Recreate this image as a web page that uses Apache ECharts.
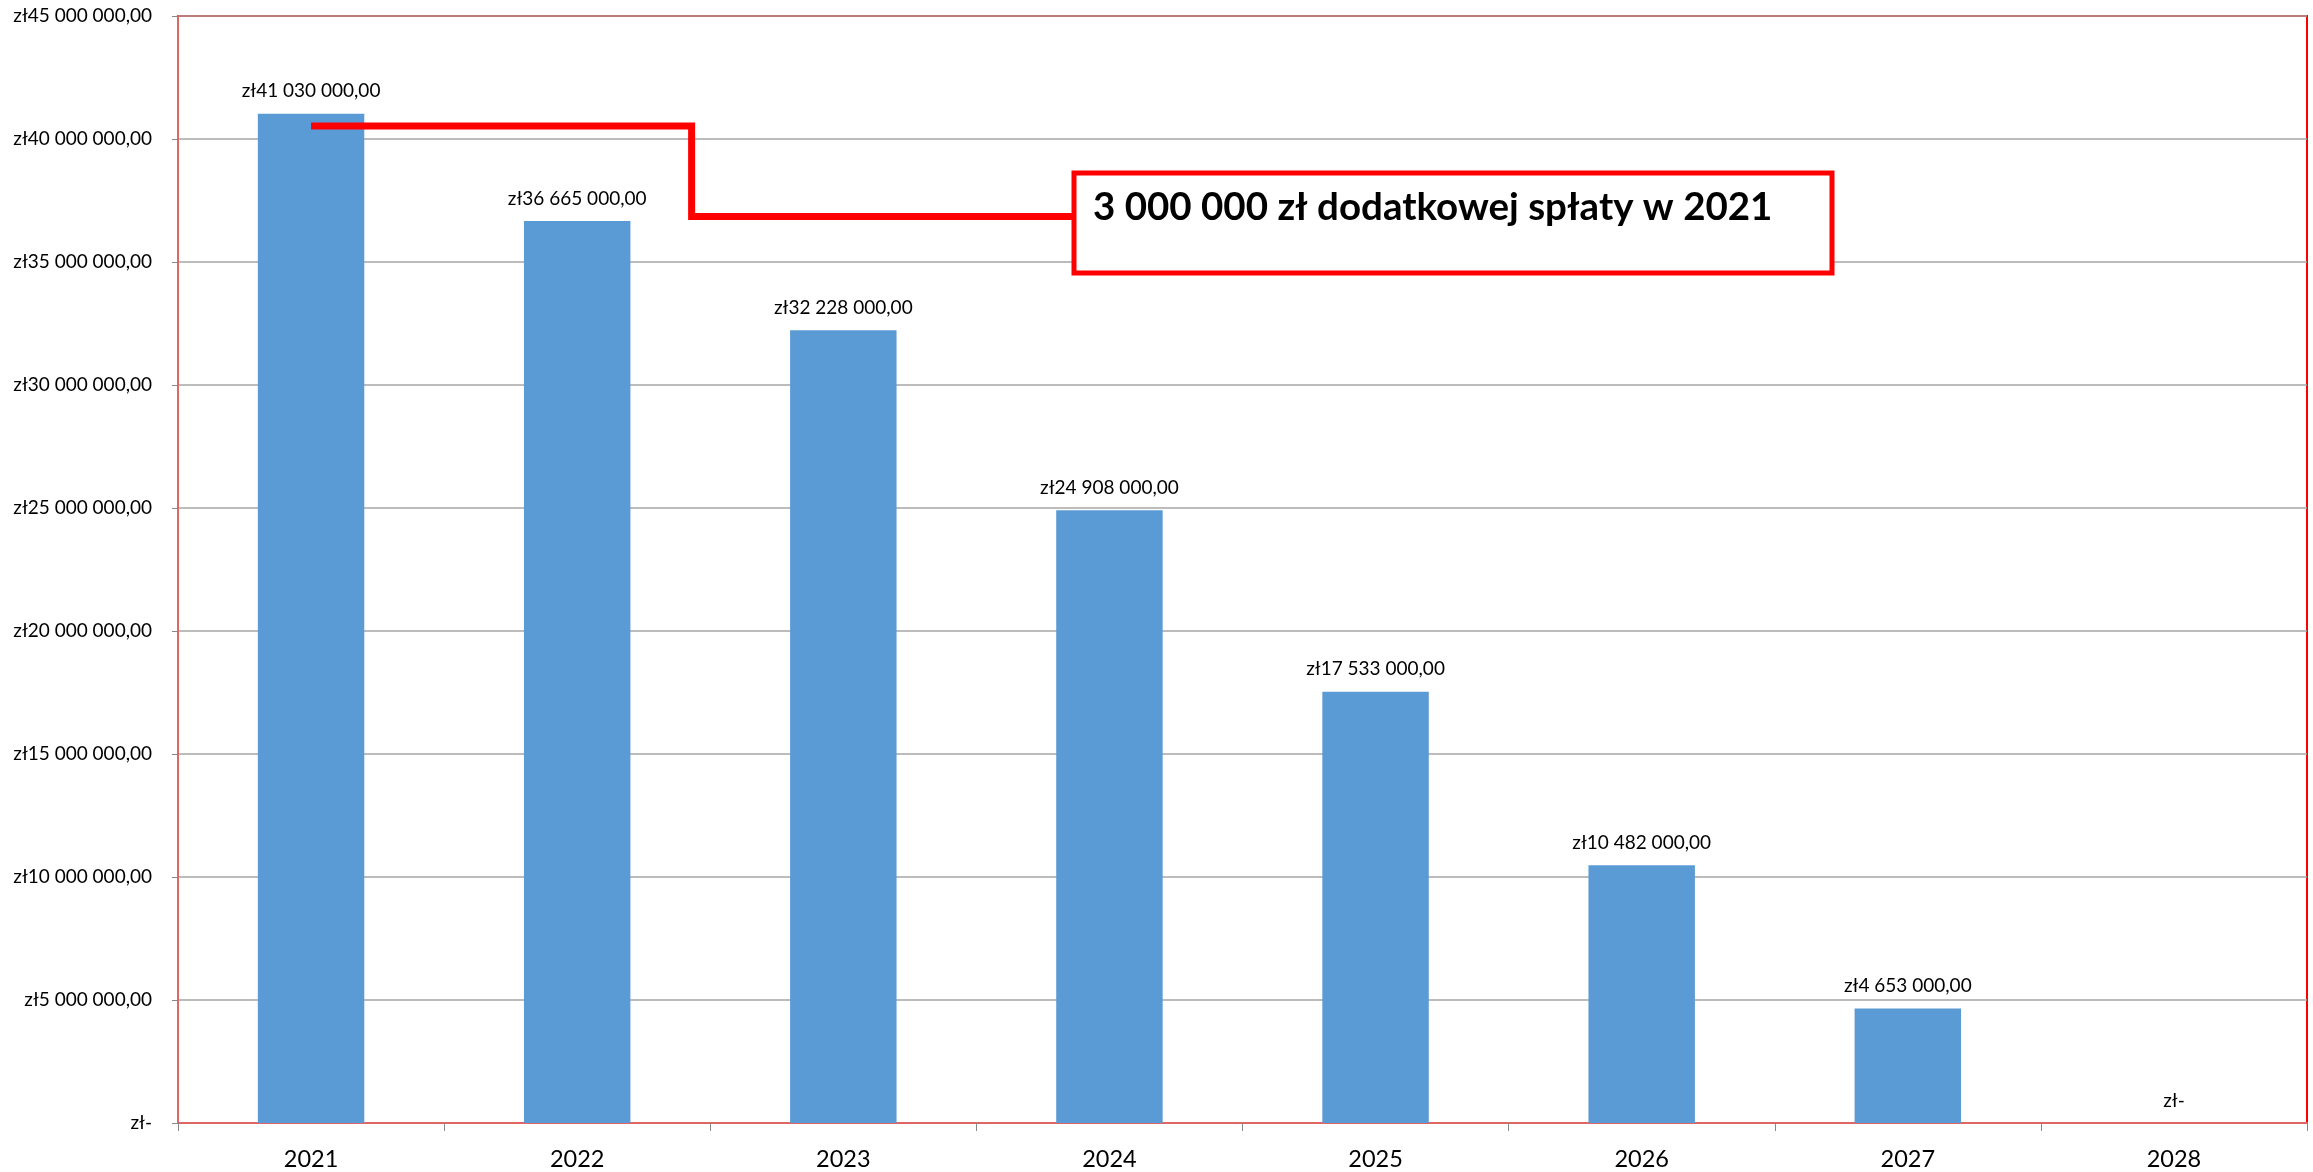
<!DOCTYPE html>
<html style="height: 100%;">
  <head>
    <meta charset="utf-8" />
    <script src="https://cdn.jsdelivr.net/npm/echarts/dist/echarts.min.js"></script>
  </head>
  <body style="height: 100%; margin: 0; background: #fff;">
    <div id="container" style="width: 2313px; height: 1172px;"></div>
    <script type="text/javascript">
      var years = ["2021", "2022", "2023", "2024", "2025", "2026", "2027", "2028"];
      var remaining = [41030000, 36665000, 32228000, 24908000, 17533000, 10482000, 4653000, 0];
      var noteText = "3 000 000 zł dodatkowej spłaty w 2021";

      var FONT = "Lato";

      function money(v) {
        if (!v) return "zł-";
        var s = String(Math.round(v)).replace(/\B(?=(\d{3})+(?!\d))/g, " ");
        return "zł" + s + ",00";
      }

      var myChart = echarts.init(document.getElementById("container"));
      var option = {
        backgroundColor: "#fff",
        animation: false,
        grid: {
          left: 178,
          right: 6,
          top: 16,
          bottom: 49,
          show: true,
          borderColor: "#ff0000",
          borderWidth: 2,
        },
        xAxis: {
          type: "category",
          data: years,
          axisLine: { lineStyle: { color: "#e06666", width: 2 } },
          axisTick: { show: true, length: 8, lineStyle: { color: "#888" } },
          axisLabel: { color: "#000", fontSize: 23.5, fontFamily: FONT, margin: 24 },
        },
        yAxis: {
          type: "value",
          min: 0,
          max: 45000000,
          interval: 5000000,
          axisLine: { show: true, lineStyle: { color: "#e06666", width: 2 } },
          axisTick: { show: true, length: 6, lineStyle: { color: "#888" } },
          splitLine: { lineStyle: { color: "#a6a6a6", width: 1.5 } },
          axisLabel: {
            color: "#000",
            fontSize: 19,
            fontFamily: FONT,
            margin: 26,
            formatter: money,
          },
        },
        series: [
          {
            type: "bar",
            data: remaining,
            barWidth: "40%",
            itemStyle: { color: "#5b9bd5" },
            label: {
              show: true,
              position: "top",
              distance: 13,
              color: "#000",
              fontSize: 19,
              fontFamily: FONT,
              formatter: function (p) { return money(p.value); },
            },
          },
        ],
      };
      myChart.setOption(option);

      // callout box with connector from the 2021 bar
      var p0 = myChart.convertToPixel({ seriesIndex: 0 }, [0, 40530000]);
      var p1 = myChart.convertToPixel({ seriesIndex: 0 }, [1, 36850000]);
      var p2 = myChart.convertToPixel({ seriesIndex: 0 }, [2, 36850000]);
      var bendX = p1[0] + 0.43 * (p2[0] - p1[0]);
      var boxL = 1074, boxT = 173, boxW = 758, boxH = 100;
      myChart.setOption({
        graphic: [
          {
            type: "polyline",
            shape: {
              points: [
                [p0[0], p0[1]],
                [bendX, p0[1]],
                [bendX, p1[1]],
                [boxL, p1[1]],
              ],
            },
            style: { stroke: "#ff0000", lineWidth: 7, fill: null },
            z: 100,
          },
          {
            type: "rect",
            shape: { x: boxL, y: boxT, width: boxW, height: boxH },
            style: { fill: "#fff", stroke: "#ff0000", lineWidth: 5 },
            z: 100,
          },
          {
            type: "text",
            x: boxL + 19,
            y: boxT + 35,
            style: {
              text: noteText,
              fill: "#000",
              font: "bold 38.5px " + FONT,
              verticalAlign: "middle",
            },
            z: 101,
          },
        ],
      });
    </script>
  </body>
</html>
